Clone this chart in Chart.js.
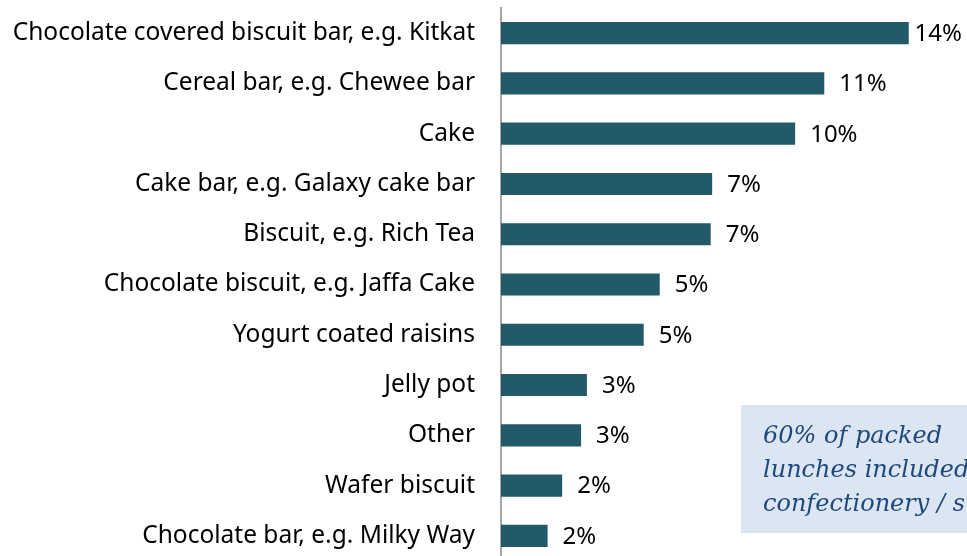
<!DOCTYPE html>
<html>
<head>
<meta charset="utf-8">
<script src="https://cdn.jsdelivr.net/npm/chart.js@4/dist/chart.umd.min.js"></script>
<style>
  html, body { margin: 0; padding: 0; background: #ffffff; overflow: hidden; }
  /* plot runs a few px past the window bottom, as in the original */
  #wrap { position: relative; width: 967px; height: 561px; }
</style>
</head>
<body>
<div id="wrap"><canvas id="bar_chart"></canvas></div>
<script>
var categories = [
    "Chocolate covered biscuit bar, e.g. Kitkat",
    "Cereal bar, e.g. Chewee bar",
    "Cake",
    "Cake bar, e.g. Galaxy cake bar",
    "Biscuit, e.g. Rich Tea",
    "Chocolate biscuit, e.g. Jaffa Cake",
    "Yogurt coated raisins",
    "Jelly pot",
    "Other",
    "Wafer biscuit",
    "Chocolate bar, e.g. Milky Way"
];
var values = [14.0, 11.1, 10.1, 7.25, 7.2, 5.45, 4.9, 2.95, 2.75, 2.1, 1.6];
var noteLines = ["60% of packed", "lunches included", "confectionery / s"];

var valueFont = "24px 'Noto Sans', sans-serif";

// percentage labels after each bar
var valueLabels = {
    id: 'valueLabels',
    afterDatasetsDraw: function (chart) {
        var ctx = chart.ctx;
        var meta = chart.getDatasetMeta(0);
        ctx.save();
        ctx.font = valueFont;
        ctx.fillStyle = '#000000';
        ctx.textBaseline = 'middle';
        meta.data.forEach(function (bar, i) {
            var txt = Math.round(values[i]) + '%';
            var w = ctx.measureText(txt).width;
            var x = Math.min(bar.x + 15, 962 - w);
            ctx.fillText(txt, x, bar.y + 1);
        });
        ctx.restore();
    }
};

// the shaded note box in the lower right
var noteBox = {
    id: 'noteBox',
    afterDraw: function (chart) {
        var ctx = chart.ctx;
        ctx.save();
        ctx.fillStyle = '#dce6f2';
        ctx.fillRect(741, 405, 240, 128);
        ctx.font = "italic 24px 'DejaVu Serif', serif";
        ctx.fillStyle = '#1f497d';
        ctx.textBaseline = 'alphabetic';
        var base = [443, 477, 511];
        noteLines.forEach(function (line, i) {
            ctx.fillText(line, 763, base[i]);
        });
        ctx.restore();
    }
};

new Chart(document.getElementById("bar_chart").getContext("2d"), {
    type: 'bar',
    data: {
        labels: categories,
        datasets: [{
            data: values,
            backgroundColor: '#235a69',
            borderWidth: 0,
            barPercentage: 0.44,
            categoryPercentage: 1.0
        }]
    },
    options: {
        indexAxis: 'y',
        responsive: true,
        maintainAspectRatio: false,
        animation: false,
        layout: { padding: { top: 8, bottom: 0, left: 0, right: 0 } },
        plugins: {
            legend: { display: false },
            tooltip: { enabled: false }
        },
        scales: {
            x: {
                min: 0,
                max: 16,
                display: false
            },
            y: {
                afterFit: function (scale) {
                    scale.width = 501;
                    scale.paddingTop = 0;
                    scale.paddingBottom = 0;
                },
                grid: { display: false, drawTicks: false },
                border: { display: true, color: '#a6a6a6', width: 2 },
                ticks: {
                    padding: 26,
                    color: '#000000',
                    font: { family: "'Noto Sans', sans-serif", size: 24.5 }
                }
            }
        }
    },
    plugins: [valueLabels, noteBox]
});
</script>
</body>
</html>
